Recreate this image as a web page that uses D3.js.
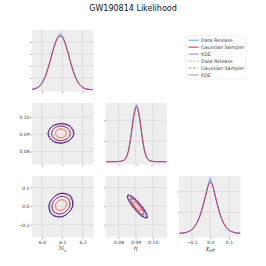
<!DOCTYPE html>
<html><head><meta charset="utf-8">
<script src="https://cdn.jsdelivr.net/npm/d3@7"></script>
<style>body{margin:0;background:#fff}svg{display:block}text{font-family:"DejaVu Sans",sans-serif}</style>
</head><body><svg id="c" width="266" height="266"></svg>
<script>
// ---------- data ----------
const title = "GW190814 Likelihood";
const seriesNames = ["Data Release", "Gaussian Sampler", "KDE"];
const seriesColors = ["#4FA6E6", "#D22E4C", "#9A7BD0"];
const legendDash = ["1,1.3", "3,1.5", null];
const contourColors = ["#3B0F70", "#A3307E", "#F8765C"];

const mcTicks = [6.0, 6.1, 6.2];
const etaTicks = [0.08, 0.09, 0.10];
const chiTicks = [-0.1, 0.0, 0.1];
const mcDomain = [5.951, 6.254];
const etaDomain = [0.0724, 0.1083];
const chiDomain = [-0.168, 0.162];

const mcDensityTicks = [2, 4, 6, 8];
const etaDensityTicks = [50, 100];
const chiDensityTicks = [5, 10];
const mcDensityDomain = [-0.3, 10];
const etaDensityDomain = [-6.75, 141.75];
const chiDensityDomain = [-0.95, 13.7];

const mcGrid = [5.95,5.96,5.97,5.98,5.99,6.00,6.01,6.02,6.03,6.04,6.05,6.06,6.07,6.08,6.09,6.10,6.11,6.12,6.13,6.14,6.15,6.16,6.17,6.18,6.19,6.20,6.21,6.22,6.23,6.24,6.25];
const mcRelease = [0.08,0.10,0.25,0.37,0.72,1.08,1.80,2.50,3.70,4.70,6.10,7.35,8.10,9.05,9.45,9.00,8.35,7.10,6.10,4.65,3.65,2.50,1.80,1.05,0.72,0.38,0.24,0.10,0.07,0.03,0.02];
const mcGauss   = [0.05,0.10,0.20,0.38,0.66,1.10,1.72,2.55,3.60,4.80,6.05,7.20,8.15,8.75,8.95,8.80,8.15,7.15,5.95,4.70,3.50,2.50,1.70,1.10,0.66,0.38,0.20,0.10,0.05,0.03,0.02];
const mcKde     = [0.06,0.12,0.22,0.40,0.69,1.13,1.75,2.57,3.59,4.77,6.02,7.22,8.21,8.87,9.10,8.87,8.21,7.22,6.02,4.77,3.59,2.57,1.75,1.13,0.69,0.40,0.22,0.12,0.06,0.03,0.02];

const etaGrid = [0.073,0.076,0.078,0.080,0.081,0.082,0.083,0.084,0.085,0.086,0.087,0.088,0.089,0.090,0.0905,0.091,0.092,0.093,0.094,0.095,0.096,0.097,0.098,0.099,0.100,0.101,0.103,0.105,0.108];
const etaRelease = [0.0,0.1,0.2,0.5,0.9,1.6,3.4,6.8,15.5,31.0,55.0,86.0,115.0,133.0,138.0,134.0,113.0,84.0,55.5,29.5,14.8,6.5,3.3,1.5,0.8,0.4,0.1,0.0,0.0];
const etaGauss   = [0.0,0.1,0.2,0.4,0.8,1.5,3.2,6.2,14.5,30.0,54.0,84.0,112.0,129.0,132.0,130.0,112.0,84.0,54.0,30.0,14.3,6.0,3.0,1.4,0.7,0.3,0.1,0.0,0.0];
const etaKde     = [0.0,0.1,0.2,0.5,0.9,1.6,3.5,6.5,15.0,30.5,54.5,85.0,114.0,131.0,134.0,131.5,114.0,85.0,54.5,30.1,14.8,6.4,3.4,1.6,0.8,0.4,0.1,0.0,0.0];

const chiGrid = [-0.165,-0.15,-0.14,-0.13,-0.12,-0.11,-0.10,-0.09,-0.08,-0.07,-0.06,-0.05,-0.04,-0.03,-0.02,-0.01,0.00,0.01,0.02,0.03,0.04,0.05,0.06,0.07,0.08,0.09,0.10,0.11,0.12,0.13,0.14,0.16];
const chiRelease = [0.05,0.12,0.18,0.22,0.45,0.55,0.95,1.25,2.00,2.60,3.80,4.90,6.60,8.10,10.2,11.9,13.3,11.6,10.4,8.20,6.60,4.80,3.70,2.50,1.85,1.15,0.85,0.50,0.38,0.20,0.15,0.06];
const chiGauss   = [0.05,0.10,0.15,0.25,0.40,0.60,0.90,1.30,1.90,2.70,3.70,5.00,6.50,8.20,10.0,11.6,12.3,11.8,10.2,8.30,6.50,4.90,3.60,2.60,1.80,1.20,0.80,0.55,0.35,0.22,0.14,0.07];
const chiKde     = [0.06,0.11,0.16,0.26,0.42,0.62,0.92,1.32,1.92,2.72,3.72,5.02,6.52,8.20,9.95,11.5,12.4,11.7,10.1,8.25,6.50,4.92,3.62,2.62,1.82,1.22,0.82,0.56,0.36,0.23,0.15,0.07];

// contour vertices (data units), outer -> inner
const mcEtaContours = [
  [[6.156,0.0905],[6.138,0.0946],[6.093,0.0962],[6.048,0.0944],[6.030,0.0905],[6.049,0.0864],[6.093,0.0848],[6.137,0.0866]],
  [[6.139,0.0905],[6.126,0.0935],[6.093,0.0948],[6.060,0.0935],[6.047,0.0905],[6.060,0.0875],[6.093,0.0862],[6.126,0.0875]],
  [[6.120,0.0905],[6.112,0.0923],[6.093,0.0931],[6.074,0.0923],[6.066,0.0905],[6.074,0.0887],[6.093,0.0879],[6.112,0.0887]]
];
const mcChiContours = [
  [[6.1515,0.005],[6.1386,0.054],[6.093,0.068],[6.0555,0.045],[6.0345,0.005],[6.0474,-0.044],[6.093,-0.058],[6.1305,-0.035]],
  [[6.137,0.005],[6.1273,0.0417],[6.093,0.052],[6.0648,0.0351],[6.049,0.005],[6.0587,-0.0317],[6.093,-0.042],[6.1212,-0.0251]],
  [[6.120,0.005],[6.114,0.0276],[6.093,0.034],[6.0757,0.0236],[6.066,0.005],[6.072,-0.0176],[6.093,-0.024],[6.1103,-0.0136]]
];
const etaChiContours = [
  [[0.0965,-0.0631],[0.0960,-0.0371],[0.0925,0.0091],[0.0881,0.0485],[0.0853,0.0579],[0.0858,0.0319],[0.0893,-0.0143],[0.0937,-0.0537]],
  [[0.0947,-0.0473],[0.0944,-0.0283],[0.09205,0.0058],[0.0890,0.0349],[0.0871,0.0421],[0.0874,0.0231],[0.08975,-0.0110],[0.0928,-0.0401]],
  [[0.0930,-0.0247],[0.0930,-0.0140],[0.0917,0.0034],[0.0900,0.0172],[0.0888,0.0195],[0.0889,0.0088],[0.0901,-0.0086],[0.0918,-0.0224]]
];

// ---------- layout ----------
const colX = [32, 105.5, 179], rowY = [30, 103, 176], S = 61.5;
const svg = d3.select("#c");

const params = [
  {domain: mcDomain, ticks: mcTicks, fmt: d3.format(".1f"), label: ["ℳ", "c"]},
  {domain: etaDomain, ticks: etaTicks, fmt: d3.format(".2f"), label: ["η", ""]},
  {domain: chiDomain, ticks: chiTicks, fmt: d3.format(".1f"), label: ["χ", "eff"]}
];
const oneD = [
  {grid: mcGrid, series: [mcRelease, mcGauss, mcKde], dom: mcDensityDomain, ticks: mcDensityTicks},
  {grid: etaGrid, series: [etaRelease, etaGauss, etaKde], dom: etaDensityDomain, ticks: etaDensityTicks},
  {grid: chiGrid, series: [chiRelease, chiGauss, chiKde], dom: chiDensityDomain, ticks: chiDensityTicks}
];
const twoD = {"1,0": mcEtaContours, "2,0": mcChiContours, "2,1": etaChiContours};

svg.append("text").attr("x", 133).attr("y", 11).attr("text-anchor", "middle")
  .attr("font-size", 8).attr("fill", "#111").text(title);

function panel(r, c) {
  const g = svg.append("g").attr("transform", `translate(${colX[c]},${rowY[r]})`);
  const x = d3.scaleLinear().domain(params[c].domain).range([0, S]);
  let y;
  if (r === c) y = d3.scaleLinear().domain(oneD[c].dom).range([S, 0]);
  else y = d3.scaleLinear().domain(params[r].domain).range([S, 0]);
  const yTicks = r === c ? oneD[c].ticks : params[r].ticks;
  g.append("rect").attr("width", S).attr("height", S).attr("fill", "#EEEEEE");
  g.selectAll(".gx").data(params[c].ticks).join("line")
    .attr("x1", d => x(d)).attr("x2", d => x(d)).attr("y1", 0).attr("y2", S)
    .attr("stroke", "#CFCFCF").attr("stroke-width", 0.5);
  g.selectAll(".gy").data(yTicks).join("line")
    .attr("y1", d => y(d)).attr("y2", d => y(d)).attr("x1", 0).attr("x2", S)
    .attr("stroke", "#CFCFCF").attr("stroke-width", 0.5);

  const xa = d3.axisBottom(x).tickValues(params[c].ticks).tickSize(1.5).tickPadding(1.5)
    .tickFormat(r === 2 ? params[c].fmt : () => "");
  const gx = g.append("g").attr("transform", `translate(0,${S})`).call(xa);
  const ya = d3.axisLeft(y).tickValues(yTicks).tickSize(1.5).tickPadding(1)
    .tickFormat(c === 0 && r !== 0 ? params[r].fmt : () => "");
  const gy = g.append("g").call(ya);
  [gx, gy].forEach(a => {
    a.select(".domain").remove();
    a.selectAll("line").attr("stroke", "#555").attr("stroke-width", 0.5);
    a.selectAll("text").attr("font-size", 4.5).attr("fill", "#333").attr("font-family", "DejaVu Sans");
  });

  const clip = "clip" + r + c;
  g.append("clipPath").attr("id", clip).append("rect").attr("width", S).attr("height", S);
  const body = g.append("g").attr("clip-path", `url(#${clip})`);

  if (r === c) {
    const od = oneD[c];
    const order = [2, 0, 1];
    order.forEach(si => {
      const line = d3.line().x((d, i) => x(od.grid[i])).y(d => y(d))
        .curve(si === 0 ? d3.curveLinear : d3.curveCatmullRom);
      body.append("path").datum(od.series[si]).attr("d", line).attr("fill", "none")
        .attr("stroke", seriesColors[si]).attr("stroke-width", 0.9).attr("stroke-opacity", 0.95);
    });
  } else {
    const cs = twoD[r + "," + c];
    const line = d3.line().x(d => x(d[0])).y(d => y(d[1])).curve(d3.curveCatmullRomClosed);
    cs.forEach((pts, li) => {
      body.append("path").datum(pts).attr("d", line).attr("fill", "none")
        .attr("stroke", contourColors[li]).attr("stroke-width", 1.0);
      body.append("path").datum(pts).attr("d", line).attr("fill", "none")
        .attr("stroke", contourColors[li]).attr("stroke-width", 0.6).attr("stroke-dasharray", "1.5,1")
        .attr("transform", "translate(0.6,-0.5)");
    });
  }
  if (r === 2) {
    const t = svg.append("text").attr("x", colX[c] + x(params[c].ticks[1])).attr("y", 250)
      .attr("text-anchor", "middle").attr("font-size", 6).attr("fill", "#333")
      .attr("font-style", "italic");
    t.append("tspan").text(params[c].label[0]);
    if (params[c].label[1]) t.append("tspan").attr("font-size", 4.2).attr("dy", 1.5).text(params[c].label[1]);
  }
}

for (let r = 0; r < 3; r++) for (let c = 0; c <= r; c++) panel(r, c);

// legend
const lg = svg.append("g").attr("transform", "translate(186,36)");
lg.append("rect").attr("width", 60).attr("height", 43).attr("rx", 1.5)
  .attr("fill", "#FFFFFF").attr("stroke", "#DDDDDD").attr("stroke-width", 0.5);
const entries = seriesNames.map((n, i) => ({name: n, color: seriesColors[i], dash: null}))
  .concat(seriesNames.map((n, i) => ({name: n, color: "#999999", dash: legendDash[i]})));
entries.forEach((e, i) => {
  const yy = 4.2 + i * 6.95;
  lg.append("line").attr("x1", 2.5).attr("x2", 12.5).attr("y1", yy).attr("y2", yy)
    .attr("stroke", e.color).attr("stroke-width", 1).attr("stroke-dasharray", e.dash);
  lg.append("text").attr("x", 15).attr("y", yy).attr("dy", "0.35em")
    .attr("font-size", 4.8).attr("fill", "#444").text(e.name);
});
</script></body></html>
